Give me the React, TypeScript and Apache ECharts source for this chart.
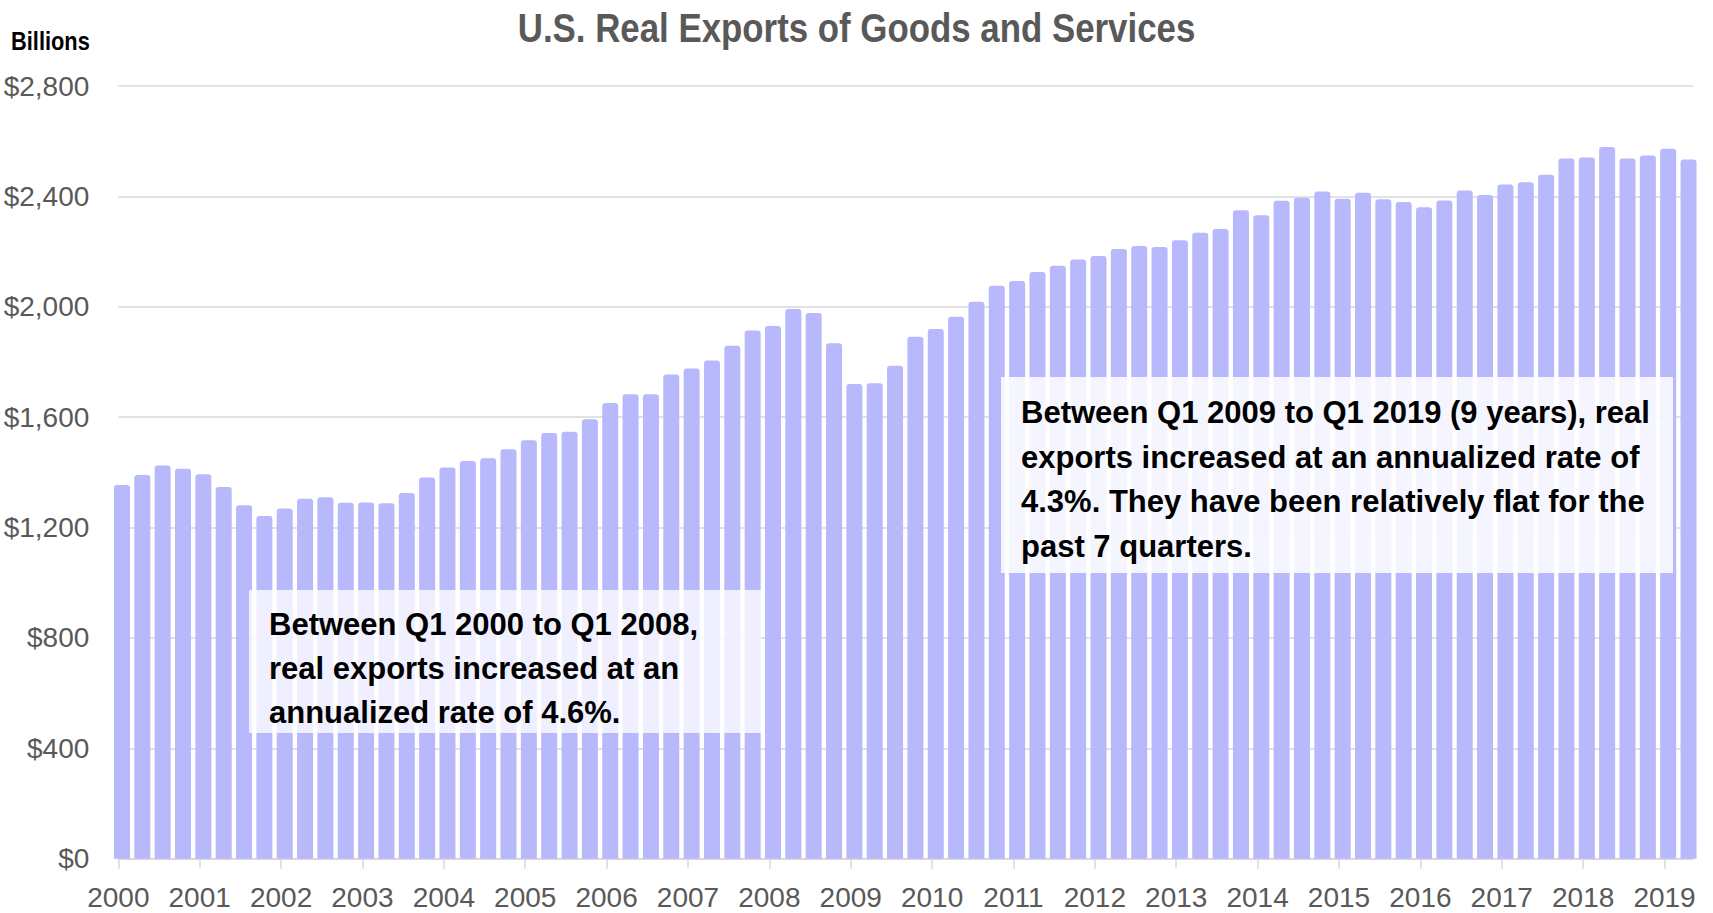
import React, { useEffect, useRef } from "react";
import * as echarts from "echarts";

// Quarterly U.S. real exports of goods and services, billions of dollars
const years = [2000, 2001, 2002, 2003, 2004, 2005, 2006, 2007, 2008, 2009, 2010, 2011, 2012, 2013, 2014, 2015, 2016, 2017, 2018, 2019];
const quarterNames = ["Q1", "Q2", "Q3", "Q4"];

const values2000to2004 = [
  1354, 1390, 1425, 1413,
  1393, 1347, 1281, 1242,
  1269, 1304, 1310, 1290,
  1291, 1288, 1325, 1381,
  1418, 1441, 1451, 1484,
];
const values2005to2009 = [
  1516, 1543, 1547, 1592,
  1651, 1683, 1683, 1755,
  1776, 1805, 1859, 1914,
  1930, 1992, 1977, 1868,
  1720, 1723, 1786, 1891,
];
const values2010to2014 = [
  1919, 1964, 2018, 2076,
  2093, 2126, 2149, 2171,
  2184, 2209, 2220, 2217,
  2241, 2268, 2282, 2350,
  2332, 2384, 2395, 2418,
];
const values2015to2019 = [
  2391, 2413, 2390, 2380,
  2361, 2385, 2421, 2405,
  2443, 2451, 2478, 2537,
  2541, 2579, 2537, 2548,
  2573, 2534,
];

const yTicks = [0, 400, 800, 1200, 1600, 2000, 2400, 2800];

const titleText = "U.S. Real Exports of Goods and Services";
const unitText = "Billions";
const note1 = "Between Q1 2000 to Q1 2008,\nreal exports increased at an\nannualized rate of 4.6%.";
const note2 = "Between Q1 2009 to Q1 2019 (9 years), real\nexports increased at an annualized rate of\n4.3%. They have been relatively flat for the\npast 7 quarters.";

const allValues = [...values2000to2004, ...values2005to2009, ...values2010to2014, ...values2015to2019];
const quarters: string[] = [];
years.forEach((y) => quarterNames.forEach((q) => quarters.push(`${y} ${q}`)));

// observation date within each quarter, as a fraction of a year
const OBS_OFFSET = 0.045;
const quarterToYear = (label: string) => {
  const [y, q] = label.split(" ");
  return Number(y) + (Number(q.slice(1)) - 1) * 0.25 + OBS_OFFSET;
};

const SANS = "'Liberation Sans', Arial, sans-serif";

export default function App() {
  const ref = useRef<HTMLDivElement>(null);
  useEffect(() => {
    if (!ref.current) return;
    const chart = echarts.init(ref.current, null, { renderer: "svg" });
    const data = allValues.map((v, i) => [quarterToYear(quarters[i]), v]);
    chart.setOption({
      animation: false,
      backgroundColor: "#ffffff",
      grid: { left: 118.3, right: 20, top: 86, bottom: 54.3 },
      xAxis: {
        type: "value",
        min: 2000,
        max: 2019.35,
        interval: 1,
        splitLine: { show: false },
        axisLine: { show: true, lineStyle: { color: "#d9d9d9", width: 2 } },
        axisTick: {
          show: true,
          length: 10,
          lineStyle: { color: "#d9d9d9", width: 1.5 },
          customValues: years,
        },
        axisLabel: {
          customValues: years,
          formatter: (v: number) => String(v),
          color: "#595959",
          fontSize: 28,
          lineHeight: 28,
          fontFamily: SANS,
          margin: 25,
        },
      },
      yAxis: {
        type: "value",
        min: 0,
        max: 2800,
        interval: 400,
        axisLine: { show: false },
        axisTick: { show: false },
        splitLine: { show: true, lineStyle: { color: "#d9d9d9", width: 1.5 } },
        axisLabel: {
          customValues: yTicks,
          formatter: (v: number) => "$" + v.toLocaleString("en-US"),
          color: "#595959",
          fontSize: 28,
          fontFamily: SANS,
          margin: 29,
        },
      },
      series: [
        {
          type: "bar",
          data,
          barWidth: 16,
          clip: true,
          itemStyle: { color: "#b8b8fc", borderRadius: [3, 3, 0, 0] },
        },
      ],
      graphic: [
        {
          type: "text",
          x: 856.5,
          y: 28,
          scaleX: 0.85,
          z: 100,
          style: {
            text: titleText,
            fill: "#595959",
            fontSize: 41,
            fontWeight: "bold",
            fontFamily: SANS,
            align: "center",
            verticalAlign: "middle",
            textAlign: "center",
            textVerticalAlign: "middle",
          },
        },
        {
          type: "text",
          x: 11,
          y: 41,
          scaleX: 0.84,
          z: 100,
          style: {
            text: unitText,
            fill: "#000000",
            fontSize: 26,
            fontWeight: "bold",
            fontFamily: SANS,
            align: "left",
            verticalAlign: "middle",
            textAlign: "left",
            textVerticalAlign: "middle",
          },
        },
        {
          type: "rect",
          z: 100,
          shape: { x: 249, y: 590, width: 512, height: 143 },
          style: { fill: "rgba(255,255,255,0.78)" },
        },
        {
          type: "text",
          x: 269,
          y: 602,
          z: 101,
          style: {
            text: note1,
            fill: "#000000",
            fontSize: 31,
            fontWeight: "bold",
            fontFamily: SANS,
            lineHeight: 44,
            align: "left",
            verticalAlign: "top",
            textAlign: "left",
            textVerticalAlign: "top",
          },
        },
        {
          type: "rect",
          z: 100,
          shape: { x: 1001, y: 377, width: 672, height: 196 },
          style: { fill: "rgba(255,255,255,0.86)" },
        },
        {
          type: "text",
          x: 1021,
          y: 390,
          z: 101,
          style: {
            text: note2,
            fill: "#000000",
            fontSize: 31,
            fontWeight: "bold",
            fontFamily: SANS,
            lineHeight: 44.7,
            align: "left",
            verticalAlign: "top",
            textAlign: "left",
            textVerticalAlign: "top",
          },
        },
      ],
    });
    return () => chart.dispose();
  }, []);
  return (
    <div
      ref={ref}
      style={{ position: "fixed", left: 0, top: 0, width: 1713, height: 913 }}
    />
  );
}
